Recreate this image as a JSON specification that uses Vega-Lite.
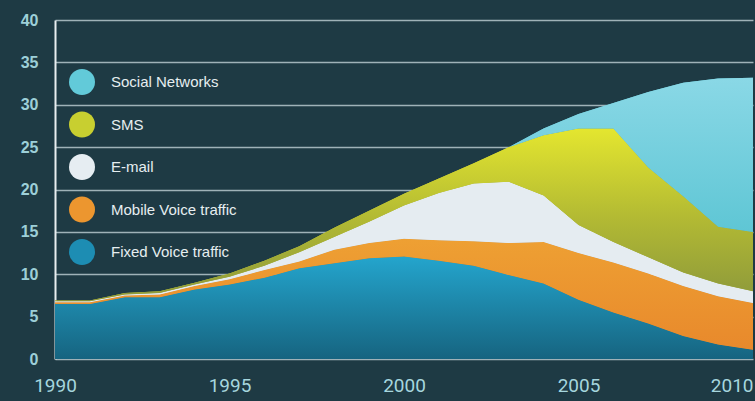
{
  "$schema": "https://vega.github.io/schema/vega-lite/v6.json",
  "width": 698,
  "height": 339,
  "autosize": "none",
  "padding": {"left": 55, "top": 20, "right": 2, "bottom": 42},
  "background": "#1e3a44",
  "config": {
    "view": {"stroke": null},
    "axis": {"grid": false, "ticks": false, "domain": false, "title": null}
  },
  "data": {"values": [
    {"year":1990,"series":"Fixed Voice traffic","rank":1,"value":6.5},{"year":1990,"series":"Mobile Voice traffic","rank":2,"value":0.2},{"year":1990,"series":"E-mail","rank":3,"value":0.1},{"year":1990,"series":"SMS","rank":4,"value":0.1},{"year":1990,"series":"Social Networks","rank":5,"value":0},
    {"year":1991,"series":"Fixed Voice traffic","rank":1,"value":6.5},{"year":1991,"series":"Mobile Voice traffic","rank":2,"value":0.2},{"year":1991,"series":"E-mail","rank":3,"value":0.1},{"year":1991,"series":"SMS","rank":4,"value":0.1},{"year":1991,"series":"Social Networks","rank":5,"value":0},
    {"year":1992,"series":"Fixed Voice traffic","rank":1,"value":7.3},{"year":1992,"series":"Mobile Voice traffic","rank":2,"value":0.2},{"year":1992,"series":"E-mail","rank":3,"value":0.1},{"year":1992,"series":"SMS","rank":4,"value":0.2},{"year":1992,"series":"Social Networks","rank":5,"value":0},
    {"year":1993,"series":"Fixed Voice traffic","rank":1,"value":7.3},{"year":1993,"series":"Mobile Voice traffic","rank":2,"value":0.3},{"year":1993,"series":"E-mail","rank":3,"value":0.2},{"year":1993,"series":"SMS","rank":4,"value":0.2},{"year":1993,"series":"Social Networks","rank":5,"value":0},
    {"year":1994,"series":"Fixed Voice traffic","rank":1,"value":8.2},{"year":1994,"series":"Mobile Voice traffic","rank":2,"value":0.4},{"year":1994,"series":"E-mail","rank":3,"value":0.2},{"year":1994,"series":"SMS","rank":4,"value":0.2},{"year":1994,"series":"Social Networks","rank":5,"value":0},
    {"year":1995,"series":"Fixed Voice traffic","rank":1,"value":8.8},{"year":1995,"series":"Mobile Voice traffic","rank":2,"value":0.6},{"year":1995,"series":"E-mail","rank":3,"value":0.3},{"year":1995,"series":"SMS","rank":4,"value":0.4},{"year":1995,"series":"Social Networks","rank":5,"value":0},
    {"year":1996,"series":"Fixed Voice traffic","rank":1,"value":9.6},{"year":1996,"series":"Mobile Voice traffic","rank":2,"value":0.9},{"year":1996,"series":"E-mail","rank":3,"value":0.5},{"year":1996,"series":"SMS","rank":4,"value":0.6},{"year":1996,"series":"Social Networks","rank":5,"value":0},
    {"year":1997,"series":"Fixed Voice traffic","rank":1,"value":10.7},{"year":1997,"series":"Mobile Voice traffic","rank":2,"value":0.8},{"year":1997,"series":"E-mail","rank":3,"value":1.1},{"year":1997,"series":"SMS","rank":4,"value":0.7},{"year":1997,"series":"Social Networks","rank":5,"value":0},
    {"year":1998,"series":"Fixed Voice traffic","rank":1,"value":11.3},{"year":1998,"series":"Mobile Voice traffic","rank":2,"value":1.6},{"year":1998,"series":"E-mail","rank":3,"value":1.5},{"year":1998,"series":"SMS","rank":4,"value":1.1},{"year":1998,"series":"Social Networks","rank":5,"value":0},
    {"year":1999,"series":"Fixed Voice traffic","rank":1,"value":11.9},{"year":1999,"series":"Mobile Voice traffic","rank":2,"value":1.8},{"year":1999,"series":"E-mail","rank":3,"value":2.5},{"year":1999,"series":"SMS","rank":4,"value":1.3},{"year":1999,"series":"Social Networks","rank":5,"value":0},
    {"year":2000,"series":"Fixed Voice traffic","rank":1,"value":12.1},{"year":2000,"series":"Mobile Voice traffic","rank":2,"value":2.1},{"year":2000,"series":"E-mail","rank":3,"value":3.9},{"year":2000,"series":"SMS","rank":4,"value":1.4},{"year":2000,"series":"Social Networks","rank":5,"value":0},
    {"year":2001,"series":"Fixed Voice traffic","rank":1,"value":11.6},{"year":2001,"series":"Mobile Voice traffic","rank":2,"value":2.4},{"year":2001,"series":"E-mail","rank":3,"value":5.6},{"year":2001,"series":"SMS","rank":4,"value":1.7},{"year":2001,"series":"Social Networks","rank":5,"value":0},
    {"year":2002,"series":"Fixed Voice traffic","rank":1,"value":11.0},{"year":2002,"series":"Mobile Voice traffic","rank":2,"value":2.9},{"year":2002,"series":"E-mail","rank":3,"value":6.8},{"year":2002,"series":"SMS","rank":4,"value":2.4},{"year":2002,"series":"Social Networks","rank":5,"value":0},
    {"year":2003,"series":"Fixed Voice traffic","rank":1,"value":9.9},{"year":2003,"series":"Mobile Voice traffic","rank":2,"value":3.8},{"year":2003,"series":"E-mail","rank":3,"value":7.2},{"year":2003,"series":"SMS","rank":4,"value":4.1},{"year":2003,"series":"Social Networks","rank":5,"value":0},
    {"year":2004,"series":"Fixed Voice traffic","rank":1,"value":8.9},{"year":2004,"series":"Mobile Voice traffic","rank":2,"value":4.9},{"year":2004,"series":"E-mail","rank":3,"value":5.5},{"year":2004,"series":"SMS","rank":4,"value":7.1},{"year":2004,"series":"Social Networks","rank":5,"value":0.8},
    {"year":2005,"series":"Fixed Voice traffic","rank":1,"value":7.0},{"year":2005,"series":"Mobile Voice traffic","rank":2,"value":5.5},{"year":2005,"series":"E-mail","rank":3,"value":3.3},{"year":2005,"series":"SMS","rank":4,"value":11.4},{"year":2005,"series":"Social Networks","rank":5,"value":1.7},
    {"year":2006,"series":"Fixed Voice traffic","rank":1,"value":5.5},{"year":2006,"series":"Mobile Voice traffic","rank":2,"value":5.9},{"year":2006,"series":"E-mail","rank":3,"value":2.4},{"year":2006,"series":"SMS","rank":4,"value":13.4},{"year":2006,"series":"Social Networks","rank":5,"value":3.0},
    {"year":2007,"series":"Fixed Voice traffic","rank":1,"value":4.2},{"year":2007,"series":"Mobile Voice traffic","rank":2,"value":5.9},{"year":2007,"series":"E-mail","rank":3,"value":1.9},{"year":2007,"series":"SMS","rank":4,"value":10.6},{"year":2007,"series":"Social Networks","rank":5,"value":8.9},
    {"year":2008,"series":"Fixed Voice traffic","rank":1,"value":2.7},{"year":2008,"series":"Mobile Voice traffic","rank":2,"value":5.9},{"year":2008,"series":"E-mail","rank":3,"value":1.6},{"year":2008,"series":"SMS","rank":4,"value":9.0},{"year":2008,"series":"Social Networks","rank":5,"value":13.4},
    {"year":2009,"series":"Fixed Voice traffic","rank":1,"value":1.7},{"year":2009,"series":"Mobile Voice traffic","rank":2,"value":5.7},{"year":2009,"series":"E-mail","rank":3,"value":1.5},{"year":2009,"series":"SMS","rank":4,"value":6.7},{"year":2009,"series":"Social Networks","rank":5,"value":17.5},
    {"year":2010,"series":"Fixed Voice traffic","rank":1,"value":1.1},{"year":2010,"series":"Mobile Voice traffic","rank":2,"value":5.5},{"year":2010,"series":"E-mail","rank":3,"value":1.4},{"year":2010,"series":"SMS","rank":4,"value":7.0},{"year":2010,"series":"Social Networks","rank":5,"value":18.2}
  ]},
  "transform": [
    {"stack": "value", "groupby": ["year"], "sort": [{"field": "rank", "order": "ascending"}], "as": ["y0", "y1"]}
  ],
  "encoding": {
    "x": {"field": "year", "type": "quantitative",
      "scale": {"domain": [1990, 2010], "nice": false, "zero": false},
      "axis": {"values": [1990, 1995, 2000, 2005, 2010], "format": "d", "labelPadding": 17,
        "labelAlign": {"expr": "datum.value == 2010 ? 'right' : 'center'"},
        "labelFont": "Liberation Sans Narrow, Roboto, Liberation Sans", "labelFontSize": 19, "labelColor": "#a6d6de", "labelFlush": false}},
    "y": {"field": "y1", "type": "quantitative",
      "scale": {"domain": [0, 40], "nice": false},
      "axis": {"values": [0, 5, 10, 15, 20, 25, 30, 35, 40], "grid": true, "gridColor": "#9fb2b8", "gridWidth": 1.5,
        "domain": true, "domainColor": "#e8eef0", "domainWidth": 2,
        "labelPadding": 17, "labelFont": "Liberation Sans", "labelFontWeight": "bold", "labelFontSize": 16, "labelColor": "#9dcfd8"}},
    "y2": {"field": "y0"}
  },
  "layer": [
    {
      "mark": {"type": "area", "interpolate": "linear"},
      "encoding": {
        "color": {"field": "series", "type": "nominal",
          "scale": {"domain": ["Social Networks", "SMS", "E-mail", "Mobile Voice traffic", "Fixed Voice traffic"],
            "range": ["#62cad9", "#c8cf30", "#e6edf2", "#ec962f", "#1d8db3"]},
          "legend": {"title": null, "orient": "none", "legendX": 14, "legendY": 49,
            "symbolType": "circle", "symbolSize": 676, "symbolStrokeWidth": 0, "symbolOpacity": 1,
            "rowPadding": 16.5, "labelOffset": 16, "labelFont": "Liberation Sans", "labelFontSize": 15, "labelColor": "#e6eef0", "padding": 0}}
      }
    },
    {
      "transform": [{"filter": "datum.series === 'Fixed Voice traffic'"}],
      "mark": {"type": "area", "color": {"gradient": "linear", "x1": 0, "y1": 0, "x2": 0, "y2": 1,
        "stops": [{"offset": 0, "color": "#24a5cd"}, {"offset": 1, "color": "#166480"}]}}
    },
    {
      "transform": [{"filter": "datum.series === 'Mobile Voice traffic'"}],
      "mark": {"type": "area", "color": {"gradient": "linear", "x1": 0, "y1": 0, "x2": 0, "y2": 1,
        "stops": [{"offset": 0, "color": "#eea033"}, {"offset": 1, "color": "#e8892c"}]}}
    },
    {
      "transform": [{"filter": "datum.series === 'E-mail'"}],
      "mark": {"type": "area", "color": "#e5ecf1"}
    },
    {
      "transform": [{"filter": "datum.series === 'SMS'"}],
      "mark": {"type": "area", "color": {"gradient": "linear", "x1": 0, "y1": 0, "x2": 0, "y2": 1,
        "stops": [{"offset": 0, "color": "#e4e62f"}, {"offset": 0.5, "color": "#b4bb33"}, {"offset": 1, "color": "#8c983b"}]}}
    },
    {
      "transform": [{"filter": "datum.series === 'Social Networks'"}],
      "mark": {"type": "area", "color": {"gradient": "linear", "x1": 0, "y1": 0, "x2": 0, "y2": 1,
        "stops": [{"offset": 0, "color": "#8ad8e6"}, {"offset": 1, "color": "#4bbecd"}]}}
    }
  ]
}
